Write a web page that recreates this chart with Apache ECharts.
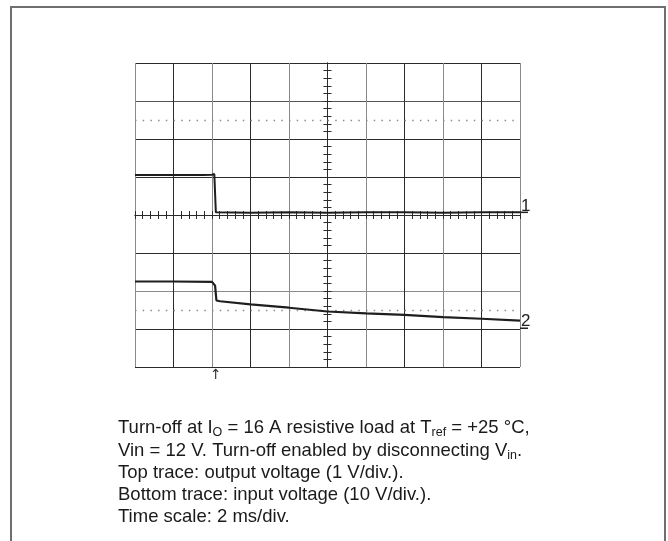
<!DOCTYPE html>
<html>
<head>
<meta charset="utf-8">
<script src="https://cdn.jsdelivr.net/npm/echarts@6/dist/echarts.min.js"></script>
<style>
  html, body { margin: 0; padding: 0; background: #fff; }
  #scope { width: 668px; height: 541px; }
</style>
</head>
<body>
<div id="scope"></div>
<script>
// time in ms (2 ms/div, 0 = screen centre), levels in scope divisions
var timeRange = [-10, 10];
var timeStep = 2;
var divRange = [-4, 4];

// top trace: output voltage (1 V/div)
var outTime  = [-10, -8, -6.5, -6, -5.88, -5.84, -5.8, -5.7, -4, -2, 0, 2, 4, 6, 8, 10];
var outLevel = [1.05, 1.05, 1.05, 1.06, 1.08, 1.05, 0.07, 0.06, 0.06, 0.07, 0.06, 0.07, 0.07, 0.06, 0.07, 0.07];

// bottom trace: input voltage (10 V/div)
var inTime  = [-10, -8, -6, -5.95, -5.84, -5.77, -5.58, -4, -2, 0, 2, 4, 6, 8, 10];
var inLevel = [-1.75, -1.75, -1.76, -1.78, -1.86, -2.25, -2.27, -2.35, -2.44, -2.54, -2.59, -2.63, -2.69, -2.73, -2.78];

// channel ground markers and graticule 0% / 100% dotted lines
var groundNames = ['1', '2'];
var groundLevels = [0.07, -2.98];
var dottedLevels = [2.5, -2.5];
var triggerTime = -5.8;

var captionLines = [
  'Turn-off at I{sub|O} = 16 A resistive load at T{sub|ref} = +25 °C,',
  'Vin = 12 V. Turn-off enabled by disconnecting V{sub|in}.',
  'Top trace: output voltage (1 V/div.).',
  'Bottom trace: input voltage (10 V/div.).',
  'Time scale: 2 ms/div.'
];

function pairs(xs, ys) {
  var out = [];
  for (var i = 0; i < xs.length; i++) out.push([xs[i], ys[i]]);
  return out;
}

var chart = echarts.init(document.getElementById('scope'), null, { renderer: 'canvas' });

var tickCommon = {
  axisLine: { show: true, onZero: true, lineStyle: { color: '#2b2b2b', width: 1 } },
  axisTick: { show: true, length: 4, lineStyle: { color: '#2b2b2b' } },
  minorTick: { show: true, splitNumber: 5, length: 4, lineStyle: { color: '#2b2b2b' } },
  axisLabel: { show: false }
};

function xAxisOf(pos, idx, withGrid) {
  return echarts.util.merge({
    type: 'value', position: pos, min: timeRange[0], max: timeRange[1], interval: timeStep,
    axisLine: { onZeroAxisIndex: idx },
    splitLine: {
      show: withGrid,
      lineStyle: { color: ['#8a8a8a', '#2b2b2b'], width: 1 }
    }
  }, echarts.util.clone(tickCommon), true);
}

function yAxisOf(pos, idx, withGrid) {
  return echarts.util.merge({
    type: 'value', position: pos, min: divRange[0], max: divRange[1], interval: 1,
    axisLine: { onZeroAxisIndex: idx },
    splitLine: {
      show: withGrid,
      lineStyle: {
        color: ['#2b2b2b', '#2b2b2b', '#8a8a8a', '#2b2b2b', '#2b2b2b', '#2b2b2b', '#2b2b2b', '#555', '#2b2b2b'],
        width: 1
      }
    }
  }, echarts.util.clone(tickCommon), true);
}

chart.setOption({
  animation: false,
  backgroundColor: '#fff',
  grid: { left: 135, top: 63, width: 385, height: 304, show: false },
  xAxis: [xAxisOf('bottom', 0, true), xAxisOf('top', 1, false)],
  yAxis: [yAxisOf('left', 0, true), yAxisOf('right', 1, false)],
  series: [
    {
      name: 'graticule',
      type: 'line',
      data: [],
      silent: true,
      markLine: {
        silent: true,
        symbol: 'none',
        label: { show: false },
        lineStyle: { color: '#8a8a8a', width: 1.3, type: [1.5, 6.2] },
        data: dottedLevels.map(function (v) { return { yAxis: v }; })
      }
    },
    {
      name: 'Output voltage',
      type: 'line',
      data: pairs(outTime, outLevel),
      showSymbol: false,
      lineStyle: { color: '#1e1e1e', width: 2 },
      z: 5
    },
    {
      name: 'Input voltage',
      type: 'line',
      data: pairs(inTime, inLevel),
      showSymbol: false,
      lineStyle: { color: '#1e1e1e', width: 2.2 },
      z: 5
    }
  ]
});

var finder = { xAxisIndex: 0, yAxisIndex: 0 };
var graphics = [
  {
    type: 'rect',
    shape: { x: 11, y: 7, width: 654, height: 580 },
    style: { fill: 'none', stroke: '#6f6f6f', lineWidth: 2 },
    silent: true
  },
  {
    type: 'text',
    x: 118,
    y: 417,
    style: {
      text: captionLines.join('\n'),
      fontFamily: 'Liberation Sans',
      fontSize: 18.5,
      lineHeight: 22.3,
      fill: '#1a1a1a',
      verticalAlign: 'top',
      rich: {
        sub: { fontFamily: 'Liberation Sans', fontSize: 12.5, lineHeight: 12, verticalAlign: 'bottom', fill: '#1a1a1a' }
      }
    },
    silent: true
  }
];

groundLevels.forEach(function (lv, i) {
  var p = chart.convertToPixel(finder, [timeRange[1], lv]);
  graphics.push({
    type: 'line',
    shape: { x1: p[0], y1: p[1], x2: p[0] + 8, y2: p[1] },
    style: { stroke: '#222', lineWidth: 1.5 },
    silent: true
  });
  graphics.push({
    type: 'text',
    x: p[0] + 1,
    y: p[1] + 2,
    style: {
      text: groundNames[i], fontFamily: 'Liberation Sans', fontSize: 17, fill: '#222',
      align: 'left', verticalAlign: 'bottom'
    },
    silent: true
  });
});

var tp = chart.convertToPixel(finder, [triggerTime, divRange[0]]);
graphics.push({
  type: 'text',
  x: tp[0],
  y: tp[1] + 1,
  style: {
    text: '↑', fontFamily: 'DejaVu Sans', fontSize: 14, fill: '#333',
    align: 'center', verticalAlign: 'top'
  },
  silent: true
});

chart.setOption({ graphic: graphics });
</script>
</body>
</html>
